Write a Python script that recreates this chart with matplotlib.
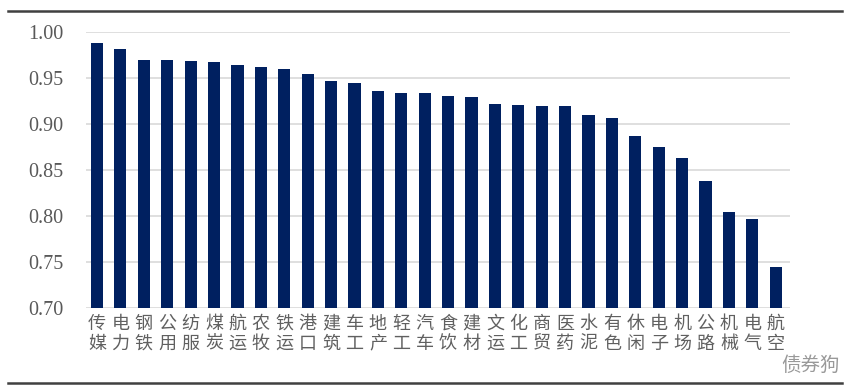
import matplotlib.pyplot as plt
from matplotlib.lines import Line2D

plt.rcParams['font.family'] = ['Noto Sans CJK SC', 'DejaVu Sans']

# industries and their values
industries = ['传媒', '电力', '钢铁', '公用', '纺服', '煤炭', '航运', '农牧', '铁运', '港口',
              '建筑', '车工', '地产', '轻工', '汽车', '食饮', '建材', '文运', '化工', '商贸',
              '医药', '水泥', '有色', '休闲', '电子', '机场', '公路', '机械', '电气', '航空']
values = [0.988, 0.982, 0.970, 0.969, 0.968, 0.967, 0.964, 0.962, 0.960, 0.954,
          0.947, 0.945, 0.936, 0.934, 0.934, 0.930, 0.929, 0.922, 0.921, 0.919,
          0.919, 0.910, 0.907, 0.887, 0.875, 0.863, 0.838, 0.804, 0.797, 0.745]
yticks = [0.70, 0.75, 0.80, 0.85, 0.90, 0.95, 1.00]

fig = plt.figure(figsize=(8.48, 3.91), dpi=100)
ax = fig.add_axes([0.1014, 0.2123, 0.830, 0.706])

x = range(len(industries))
ax.bar(x, values, width=0.52, color='#002060', zorder=3)

ax.set_ylim(0.70, 1.00)
ax.set_xlim(-0.47, 29.6)
ax.set_yticks(yticks)
ax.set_yticklabels(['%.2f' % v for v in yticks], family='Liberation Serif',
                   fontsize=14.5, color='#595959')
ax.yaxis.grid(True, color='#d9d9d9', linewidth=1.2, zorder=0)
ax.tick_params(axis='y', length=0, pad=16)

ax.set_xticks(list(x))
ax.set_xticklabels(['\n'.join(n) for n in industries], fontsize=13,
                   color='#606060', linespacing=1.12, fontweight='light')
ax.tick_params(axis='x', length=0, pad=5)

for s in ax.spines.values():
    s.set_visible(False)

# top and bottom rules
fig.add_artist(Line2D([0.01, 0.993], [0.972, 0.972], color='#404040', linewidth=1.8))
fig.add_artist(Line2D([0.01, 0.993], [0.02, 0.02], color='#404040', linewidth=1.8))

# watermark
fig.text(0.99, 0.065, '债券狗', fontsize=14, color='#999999', ha='right', va='center',
         fontweight='light')

fig.savefig('out.png', dpi=100)
